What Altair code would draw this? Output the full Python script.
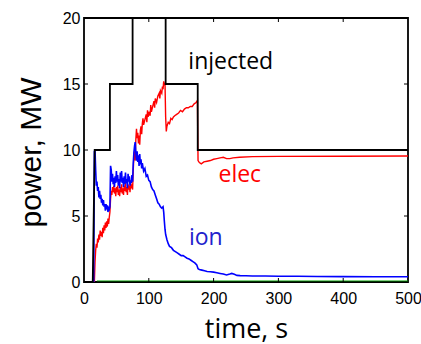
import altair as alt
import pandas as pd

# ---- data ----
inj_t = [0, 13.5, 16.5, 40, 40, 75, 75, 126, 126, 175.5, 175.5, 500]
inj_p = [0, 0, 10, 10, 15, 15, 20, 20, 15, 15, 10, 10]

elec_t = [0, 16, 17, 18, 19, 20, 21, 22, 23, 24, 25, 26, 27, 28, 29, 30, 31, 32, 33, 34, 35, 36, 37, 38, 39, 40,
          41, 42, 43, 44, 45, 46, 47, 48, 49, 50, 51, 52, 53, 54, 55, 56, 57, 58, 59, 60, 61, 62, 63, 64, 65, 66,
          67, 68, 69, 70, 71, 72, 73, 74, 75, 76, 77, 78, 79, 80, 81, 82, 83, 84, 85, 86, 87, 88, 89, 90, 91, 92,
          94, 96, 97, 98, 99, 100, 102, 103, 104, 106, 108, 109, 110, 112, 114, 116, 117, 118, 120, 121, 122, 123,
          124, 125, 126, 127, 128, 130, 132, 134, 136, 138, 140, 143, 146, 149, 152, 155, 158, 161, 164, 167, 170,
          173, 175, 176, 178, 181, 185, 190, 195, 200, 205, 210, 215, 220, 225, 230, 240, 260, 300, 400, 500]
elec_p = [0, 0, 1.5, 2.4, 2.9, 2.6, 3.3, 3.0, 3.6, 3.2, 3.9, 3.5, 3.8, 3.4, 4.1, 3.7, 4.3, 3.9, 4.5, 4.1, 4.6, 4.2,
          4.8, 4.4, 4.9, 5.3, 6.3, 6.9, 6.6, 7.2, 6.8, 7.3, 6.7, 7.1, 6.5, 7.2, 6.8, 7.3, 6.6, 7.0, 6.5, 7.2, 6.8,
          7.4, 6.7, 7.1, 6.6, 7.3, 6.9, 7.5, 6.8, 7.2, 6.6, 7.4, 7.0, 7.3, 6.8, 7.5, 7.1, 7.4, 7.0, 8.5, 9.5, 9.9,
          9.2, 10.8, 11.6, 10.9, 11.3, 10.5, 11.1, 10.4, 11.5, 11.8, 11.2, 12.0, 12.4, 11.9, 12.3, 12.7, 12.1,
          13.0, 12.5, 12.9, 12.6, 13.4, 12.9, 13.3, 13.7, 13.2, 13.9, 13.6, 14.1, 14.3, 13.9, 14.5, 14.3, 14.8,
          14.6, 15.2, 14.9, 15.1, 12.5, 11.4, 11.8, 12.1, 12.0, 12.4, 12.3, 12.5, 12.6, 12.7, 12.8, 13.0, 12.9,
          13.1, 13.2, 13.2, 13.3, 13.3, 13.5, 13.6, 13.75, 9.2, 9.05, 8.95, 9.1, 9.15, 9.2, 9.3, 9.35, 9.4, 9.45,
          9.35, 9.35, 9.4, 9.45, 9.5, 9.52, 9.53, 9.55]

ion_t = [0, 15, 16, 17, 18, 19, 20, 21, 22, 23, 24, 25, 26, 27, 28, 29, 30, 31, 32, 33, 34, 35, 36, 37, 38, 39, 40,
         41, 42, 43, 44, 45, 46, 47, 48, 49, 50, 51, 52, 53, 54, 55, 56, 57, 58, 59, 60, 61, 62, 63, 64, 65, 66,
         67, 68, 69, 70, 71, 72, 73, 74, 75, 76, 77, 78, 79, 80, 81, 82, 83, 84, 85, 86, 87, 88, 89, 90, 92, 94,
         96, 98, 100, 102, 104, 106, 108, 110, 112, 114, 116, 118, 120, 122, 123, 124, 125, 126, 128, 130, 132,
         135, 138, 141, 144, 147, 150, 153, 156, 159, 162, 165, 168, 171, 174, 176, 178, 182, 186, 190, 195, 200,
         205, 210, 215, 220, 225, 228, 232, 236, 241, 250, 260, 280, 300, 330, 360, 400, 450, 500]
ion_p = [0, 0, 9.9, 10.0, 8.5, 7.3, 7.6, 6.9, 7.2, 6.4, 6.9, 6.3, 6.6, 6.0, 6.3, 5.8, 6.2, 5.7, 5.9, 5.4, 5.9, 5.5,
         5.8, 5.3, 5.6, 5.5, 5.7, 8.8, 8.5, 7.6, 8.2, 7.4, 7.9, 7.2, 8.0, 7.5, 8.4, 7.6, 8.1, 7.3, 7.8, 7.1, 8.3,
         7.6, 8.4, 7.5, 7.9, 7.2, 8.0, 7.4, 8.3, 7.5, 7.8, 7.1, 8.2, 7.6, 8.0, 7.3, 7.7, 7.5, 8.1, 7.6, 9.0, 9.8,
         10.3, 10.6, 9.8, 9.2, 9.9, 9.1, 9.6, 8.8, 9.7, 8.9, 9.3, 8.6, 9.0, 8.4, 8.6, 8.0, 8.1, 7.7, 7.6, 7.2,
         7.0, 6.9, 6.6, 6.3, 6.0, 5.9, 5.7, 5.6, 5.7, 5.3, 4.6, 4.0, 3.6, 3.2, 2.9, 2.7, 2.6, 2.4, 2.3, 2.2, 2.1,
         2.0, 2.0, 1.9, 1.8, 1.75, 1.65, 1.55, 1.45, 1.3, 1.0, 0.95, 0.9, 0.85, 0.8, 0.78, 0.75, 0.7, 0.65, 0.6,
         0.53, 0.6, 0.65, 0.58, 0.5, 0.48, 0.47, 0.46, 0.45, 0.44, 0.43, 0.42, 0.41, 0.4, 0.4]

zero_t = [20, 500]
zero_p = [0.08, 0.08]

x_ticks = [0, 100, 200, 300, 400, 500]
y_ticks = [0, 5, 10, 15, 20]
x_inner = [100, 200, 300, 400]
y_inner = [5, 10, 15]

W, H = 324, 264
TK = 4

xs = alt.Scale(domain=[0, 500], nice=False, zero=False)
ys = alt.Scale(domain=[0, 20], nice=False, zero=False)

def df(t, p):
    return pd.DataFrame({"t": t, "p": p, "o": list(range(len(t)))})

xax = alt.Axis(values=x_ticks, domain=False, ticks=False, tickSize=0, grid=False, labelPadding=8,
               labelFlush=False, labelOverlap=False,
               labelFont="Liberation Sans", labelFontSize=16, labelColor="black",
               title="time, s", titleFont="Open Sans", titleFontSize=27, titleFontWeight="normal",
               titleColor="black", titleY=55, titleBaseline="alphabetic")
yax = alt.Axis(values=y_ticks, domain=False, ticks=False, tickSize=0, grid=False, labelPadding=4,
               labelFlush=False, labelOverlap=False,
               labelFont="Liberation Sans", labelFontSize=16, labelColor="black",
               title="power, MW", titleFont="Liberation Sans", titleFontSize=30, titleFontWeight="normal",
               titleColor="black", titleX=-44, titleY=134, titleAngle=270, titleBaseline="alphabetic",
               titleAlign="center")

X = lambda f: alt.X(f, scale=xs, axis=xax)
Y = lambda f: alt.Y(f, scale=ys, axis=yax)

def line(t, p, color, w):
    return alt.Chart(df(t, p)).mark_line(color=color, strokeWidth=w, clip=True).encode(
        x=X("t:Q"), y=Y("p:Q"), order="o:Q",
    )

green = line(zero_t, zero_p, "#00a000", 0.9)
elec = line(elec_t, elec_p, "#ff0000", 1.4)
ion = line(ion_t, ion_p, "#0000ff", 1.6)
inj = line(inj_t, inj_p, "black", 1.8)

frame = alt.Chart(pd.DataFrame({"a": [0]})).mark_rect(filled=False, stroke="black", strokeWidth=1.8).encode(
    x=alt.datum(0, scale=xs, axis=xax), x2=alt.datum(500), y=alt.datum(0, scale=ys, axis=yax), y2=alt.datum(20))

xt = pd.DataFrame({"t": x_inner})
yt = pd.DataFrame({"p": y_inner})
tick_b = alt.Chart(xt).mark_rule(color="black", strokeWidth=1).encode(
    x=X("t:Q"), y=alt.value(H), y2=alt.value(H - TK))
tick_t = alt.Chart(xt).mark_rule(color="black", strokeWidth=1).encode(
    x=X("t:Q"), y=alt.value(0), y2=alt.value(TK))
tick_l = alt.Chart(yt).mark_rule(color="black", strokeWidth=1).encode(
    y=Y("p:Q"), x=alt.value(0), x2=alt.value(TK))
tick_r = alt.Chart(yt).mark_rule(color="black", strokeWidth=1).encode(
    y=Y("p:Q"), x=alt.value(W), x2=alt.value(W - TK))

def label(txt, tx, py, color):
    return alt.Chart(pd.DataFrame({"a": [0]})).mark_text(
        text=txt, font="Open Sans", fontSize=23, color=color, align="left", baseline="alphabetic").encode(
        x=alt.datum(tx, scale=xs, axis=xax), y=alt.datum(py, scale=ys, axis=yax))

lab_inj = label("injected", 161, 16.1, "black")
lab_elec = label("elec", 207.5, 7.58, "#ff0000")
lab_ion = label("ion", 162, 2.8, "#2222cc")

chart = alt.layer(frame, green, tick_b, tick_t, tick_l, tick_r, elec, ion, inj, lab_inj, lab_elec, lab_ion).properties(
    width=W, height=H,
    autosize=alt.AutoSizeParams(type="none"),
    padding={"left": 84, "top": 18, "right": 13, "bottom": 62},
    background="white",
).configure_view(stroke=None)

chart.save("out.html", embed_options={"renderer": "svg", "actions": False})
